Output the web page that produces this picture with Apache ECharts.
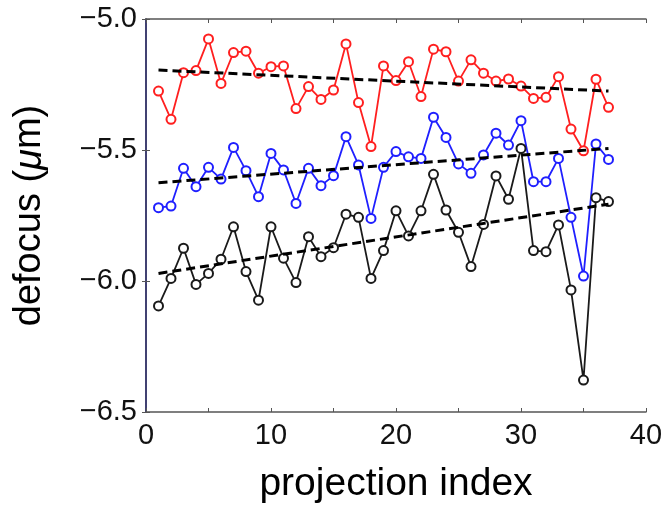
<!DOCTYPE html>
<html>
<head>
<meta charset="utf-8">
<script src="https://cdn.jsdelivr.net/npm/echarts@6/dist/echarts.min.js"></script>
<style>
  html, body { margin: 0; padding: 0; background: #fff; }
  #chart { width: 666px; height: 511px; }
</style>
</head>
<body>
<div id="chart"></div>
<script>
// Projection indices 1..37
const projIndex = [1,2,3,4,5,6,7,8,9,10,11,12,13,14,15,16,17,18,19,20,21,22,23,24,25,26,27,28,29,30,31,32,33,34,35,36,37];

// Defocus per projection (µm) for the three tracks
const redDefocus = [-5.275,-5.383,-5.205,-5.197,-5.076,-5.246,-5.128,-5.123,-5.207,-5.182,
  -5.179,-5.342,-5.258,-5.307,-5.271,-5.095,-5.319,-5.487,-5.179,-5.235,
  -5.163,-5.296,-5.115,-5.125,-5.237,-5.156,-5.207,-5.237,-5.229,-5.256,
  -5.303,-5.299,-5.220,-5.420,-5.503,-5.230,-5.337];
const blueDefocus = [-5.720,-5.714,-5.570,-5.640,-5.566,-5.611,-5.490,-5.579,-5.678,-5.513,
  -5.576,-5.704,-5.570,-5.636,-5.598,-5.449,-5.557,-5.761,-5.566,-5.506,
  -5.526,-5.532,-5.375,-5.452,-5.553,-5.589,-5.519,-5.436,-5.481,-5.388,
  -5.621,-5.621,-5.532,-5.757,-5.981,-5.477,-5.536];
const blackDefocus = [-6.095,-5.990,-5.875,-6.013,-5.971,-5.917,-5.793,-5.964,-6.073,-5.793,
  -5.913,-6.006,-5.831,-5.907,-5.873,-5.745,-5.757,-5.990,-5.884,-5.732,
  -5.828,-5.732,-5.593,-5.729,-5.814,-5.945,-5.784,-5.599,-5.688,-5.494,
  -5.884,-5.888,-5.786,-6.034,-6.378,-5.682,-5.697];

// Linear trend end points (first and last projection)
const trendX = [1, 37];
const redTrend = [-5.195, -5.275];
const blueTrend = [-5.625, -5.494];
const blackTrend = [-5.971, -5.707];

// Axis ticks
const xTicks = [0, 10, 20, 30, 40];
const yTicks = [-6.5, -6.0, -5.5, -5.0];

const pairs = (xs, ys) => xs.map((x, i) => [x, ys[i]]);

const font = '"Liberation Sans", Arial, Helvetica, sans-serif';
const frameGray = '#555555';

function dataSeries(name, color, values) {
  return {
    name, type: 'line', data: pairs(projIndex, values),
    symbol: 'emptyCircle', symbolSize: 9, showSymbol: true, showAllSymbol: true,
    lineStyle: { color, width: 1.8 },
    itemStyle: { color, borderWidth: 1.6 },
    z: 2, animation: false
  };
}
function trendSeries(name, values) {
  return {
    name, type: 'line', data: pairs(trendX, values),
    symbol: 'none',
    lineStyle: { color: '#000', width: 3, type: [9, 5] },
    z: 3, animation: false
  };
}

const chart = echarts.init(document.getElementById('chart'), null, { renderer: 'canvas' });
chart.setOption({
  backgroundColor: '#fff',
  animation: false,
  grid: { left: 146, top: 19, width: 500, height: 393, containLabel: false },
  xAxis: [{
    type: 'value', min: xTicks[0], max: xTicks[xTicks.length - 1], interval: 10,
    position: 'bottom',
    axisLine: { show: true, lineStyle: { color: frameGray, width: 1.5 } },
    axisTick: { show: true, inside: true, length: 4, lineStyle: { color: frameGray } },
    minorTick: { show: true, splitNumber: 2, length: 4, lineStyle: { color: frameGray } },
    splitLine: { show: false },
    axisLabel: { color: '#111', fontSize: 29, fontFamily: font, margin: 9 },
    name: 'projection index', nameLocation: 'middle', nameGap: 53,
    nameTextStyle: { color: '#000', fontSize: 39, fontFamily: font }
  }, {
    type: 'value', min: xTicks[0], max: xTicks[xTicks.length - 1], interval: 10,
    position: 'top',
    axisLine: { show: true, lineStyle: { color: frameGray, width: 1.5 } },
    axisTick: { show: true, inside: true, length: 4, lineStyle: { color: frameGray } },
    minorTick: { show: true, splitNumber: 2, length: 4, lineStyle: { color: frameGray } },
    splitLine: { show: false },
    axisLabel: { show: false }
  }],
  yAxis: [{
    type: 'value', min: yTicks[0], max: yTicks[yTicks.length - 1], interval: 0.5,
    position: 'left',
    axisLine: { show: true, lineStyle: { color: frameGray, width: 1.5 } },
    axisTick: { show: true, inside: true, length: 4, lineStyle: { color: frameGray } },
    splitLine: { show: false },
    axisLabel: {
      color: '#111', fontSize: 29, fontFamily: font, margin: 9,
      formatter: v => v.toFixed(1).replace('-', '\u2212')
    },
    name: '{a|defocus (}{b|\u03bc}{a|m)}', nameLocation: 'middle', nameGap: 97,
    nameRotate: 90,
    nameTextStyle: {
      rich: {
        a: { color: '#000', fontSize: 38, fontFamily: font },
        b: { color: '#000', fontSize: 38, fontFamily: font, fontStyle: 'italic' }
      }
    }
  }, {
    type: 'value', min: yTicks[0], max: yTicks[yTicks.length - 1], interval: 0.5,
    position: 'right',
    axisLine: { show: true, lineStyle: { color: '#2c2c6e', width: 1.5 } },
    axisTick: { show: true, inside: true, length: 4, lineStyle: { color: frameGray } },
    splitLine: { show: false },
    axisLabel: { show: false }
  }],
  series: [
    dataSeries('red', '#ff1f1f', redDefocus),
    dataSeries('blue', '#1f1fff', blueDefocus),
    dataSeries('black', '#1a1a1a', blackDefocus),
    trendSeries('red trend', redTrend),
    trendSeries('blue trend', blueTrend),
    trendSeries('black trend', blackTrend)
  ]
});
</script>
</body>
</html>
